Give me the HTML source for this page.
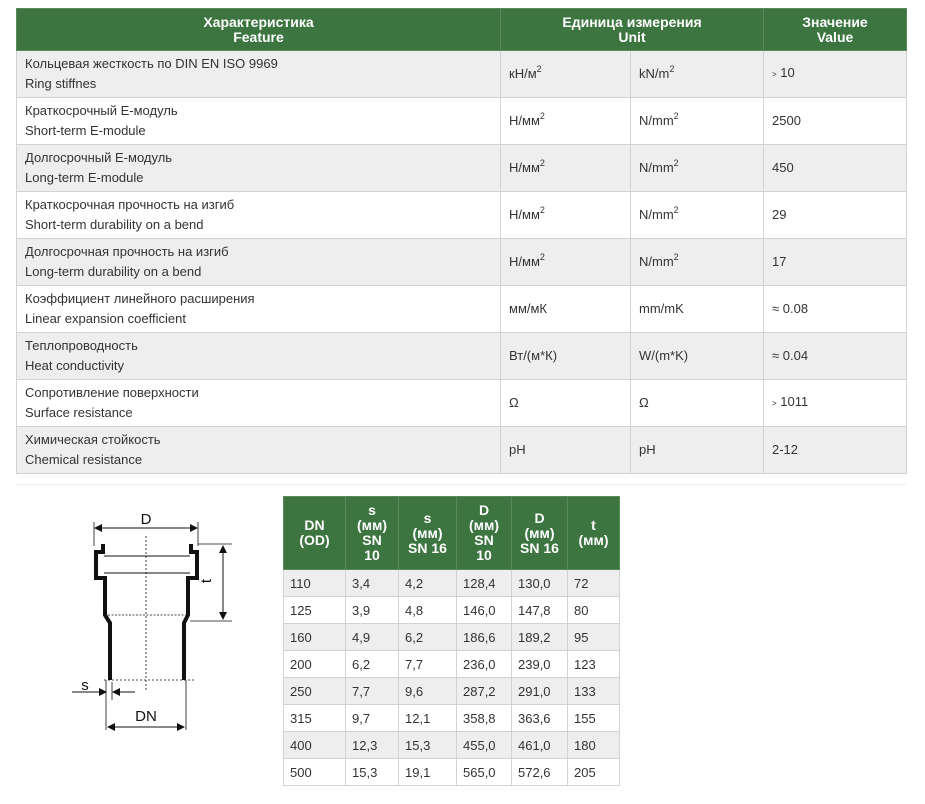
<!DOCTYPE html>
<html><head><meta charset="utf-8">
<style>
*{box-sizing:border-box;margin:0;padding:0}
body{width:925px;height:804px;background:#fff;font-family:"Liberation Sans","DejaVu Sans",sans-serif;color:#333;position:relative;overflow:hidden}
table{border-collapse:collapse;position:absolute;table-layout:fixed}
td,th{border:1px solid #d2d2d2;font-size:13px}
th{background:#3d7540;color:#fff;font-weight:bold;text-align:center;line-height:15px;border-color:#5a8a5c;font-size:14px}
#t1{left:16px;top:8px;width:890px}
#t1 th{height:42px}
#t1 td{height:47px;padding:0 8px;line-height:20px}
tr.g td{background:#eeeeee}
tr.w td{background:#fff}
sup{font-size:9px;vertical-align:6px;line-height:0}
#t2{left:283px;top:496px;width:336px}
#t2 th{height:73px;font-size:14px}
#t2 td{height:27px;padding:0 6px}
#hr{position:absolute;left:16px;top:484px;width:890px;height:1px;background:#ececec}
</style></head><body>
<table id="t1">
<colgroup><col style="width:484px"><col style="width:130px"><col style="width:133px"><col style="width:143px"></colgroup>
<tr><th>Характеристика<br>Feature</th><th colspan="2">Единица измерения<br>Unit</th><th>Значение<br>Value</th></tr>
<tr class="g"><td>Кольцевая жесткость по DIN EN ISO 9969<br>Ring stiffnes</td><td>кН/м<sup>2</sup></td><td>kN/m<sup>2</sup></td><td><span style="font-size:8px">&gt;</span> 10</td></tr>
<tr class="w"><td>Краткосрочный Е-модуль<br>Short-term E-module</td><td>Н/мм<sup>2</sup></td><td>N/mm<sup>2</sup></td><td>2500</td></tr>
<tr class="g"><td>Долгосрочный Е-модуль<br>Long-term E-module</td><td>Н/мм<sup>2</sup></td><td>N/mm<sup>2</sup></td><td>450</td></tr>
<tr class="w"><td>Краткосрочная прочность на изгиб<br>Short-term durability on a bend</td><td>Н/мм<sup>2</sup></td><td>N/mm<sup>2</sup></td><td>29</td></tr>
<tr class="g"><td>Долгосрочная прочность на изгиб<br>Long-term durability on a bend</td><td>Н/мм<sup>2</sup></td><td>N/mm<sup>2</sup></td><td>17</td></tr>
<tr class="w"><td>Коэффициент линейного расширения<br>Linear expansion coefficient</td><td>мм/мК</td><td>mm/mK</td><td>≈ 0.08</td></tr>
<tr class="g"><td>Теплопроводность<br>Heat conductivity</td><td>Вт/(м*К)</td><td>W/(m*K)</td><td>≈ 0.04</td></tr>
<tr class="w"><td>Сопротивление поверхности<br>Surface resistance</td><td>Ω</td><td>Ω</td><td><span style="font-size:8px">&gt;</span> 1011</td></tr>
<tr class="g"><td>Химическая стойкость<br>Chemical resistance</td><td>pH</td><td>pH</td><td>2-12</td></tr>
</table>
<div id="hr"></div>

<svg style="position:absolute;left:0;top:490px" width="280" height="260" viewBox="0 490 280 260">
<defs><marker id="ar" markerWidth="8" markerHeight="8" refX="7" refY="4" orient="auto-start-reverse" markerUnits="userSpaceOnUse"><path d="M0,0 L8,4 L0,8 z" fill="#111"/></marker></defs>
<g stroke="#111" fill="none">
<line x1="146" y1="536" x2="146" y2="690" stroke-dasharray="2,2" stroke-width="0.8"/>
<line x1="95" y1="528" x2="197" y2="528" marker-start="url(#ar)" marker-end="url(#ar)"/>
<line x1="94" y1="522" x2="94" y2="546" stroke-width="0.8"/>
<line x1="198" y1="522" x2="198" y2="546" stroke-width="0.8"/>
<path d="M103,544 L103,552 L96,552 L96,578 L105,578 L105,615 L110,623 L110,680" stroke-width="4"/>
<path d="M191,544 L191,552 L197,552 L197,578 L188,578 L188,615 L184,623 L184,680" stroke-width="4"/>
<line x1="104" y1="556" x2="190" y2="556" stroke-width="1"/>
<line x1="104" y1="573" x2="190" y2="573" stroke-width="1"/>
<line x1="108" y1="615" x2="186" y2="615" stroke-dasharray="2,1.5" stroke-width="0.8"/>
<line x1="198" y1="544" x2="232" y2="544" stroke-width="0.8"/>
<line x1="190" y1="621" x2="232" y2="621" stroke-width="0.8"/>
<line x1="223" y1="546" x2="223" y2="619" marker-start="url(#ar)" marker-end="url(#ar)"/>
<line x1="104" y1="680" x2="194" y2="680" stroke-dasharray="2,2" stroke-width="0.8"/>
<line x1="72" y1="692" x2="106" y2="692" marker-end="url(#ar)"/>
<line x1="135" y1="692" x2="113" y2="692" marker-end="url(#ar)"/>
<line x1="106" y1="680" x2="106" y2="730" stroke-width="0.8"/>
<line x1="112" y1="682" x2="112" y2="700" stroke-width="0.8"/>
<line x1="186" y1="680" x2="186" y2="730" stroke-width="0.8"/>
<line x1="108" y1="727" x2="184" y2="727" marker-start="url(#ar)" marker-end="url(#ar)"/>
</g>
<g font-family="Liberation Sans, sans-serif" font-size="15" fill="#111" text-anchor="middle">
<text x="146" y="524">D</text>
<text x="146" y="721">DN</text>
<text x="85" y="690">s</text>
<text x="0" y="0" transform="translate(211,581) rotate(-90)">t</text>
</g>
</svg>

<table id="t2">
<colgroup><col style="width:62px"><col style="width:53px"><col style="width:58px"><col style="width:55px"><col style="width:56px"><col style="width:52px"></colgroup>
<tr><th>DN<br>(OD)</th><th>s<br>(мм)<br>SN<br>10</th><th>s<br>(мм)<br>SN 16</th><th>D<br>(мм)<br>SN<br>10</th><th>D<br>(мм)<br>SN 16</th><th>t<br>(мм)</th></tr>
<tr class="g"><td>110</td><td>3,4</td><td>4,2</td><td>128,4</td><td>130,0</td><td>72</td></tr>
<tr class="w"><td>125</td><td>3,9</td><td>4,8</td><td>146,0</td><td>147,8</td><td>80</td></tr>
<tr class="g"><td>160</td><td>4,9</td><td>6,2</td><td>186,6</td><td>189,2</td><td>95</td></tr>
<tr class="w"><td>200</td><td>6,2</td><td>7,7</td><td>236,0</td><td>239,0</td><td>123</td></tr>
<tr class="g"><td>250</td><td>7,7</td><td>9,6</td><td>287,2</td><td>291,0</td><td>133</td></tr>
<tr class="w"><td>315</td><td>9,7</td><td>12,1</td><td>358,8</td><td>363,6</td><td>155</td></tr>
<tr class="g"><td>400</td><td>12,3</td><td>15,3</td><td>455,0</td><td>461,0</td><td>180</td></tr>
<tr class="w"><td>500</td><td>15,3</td><td>19,1</td><td>565,0</td><td>572,6</td><td>205</td></tr>
</table>
</body></html>
